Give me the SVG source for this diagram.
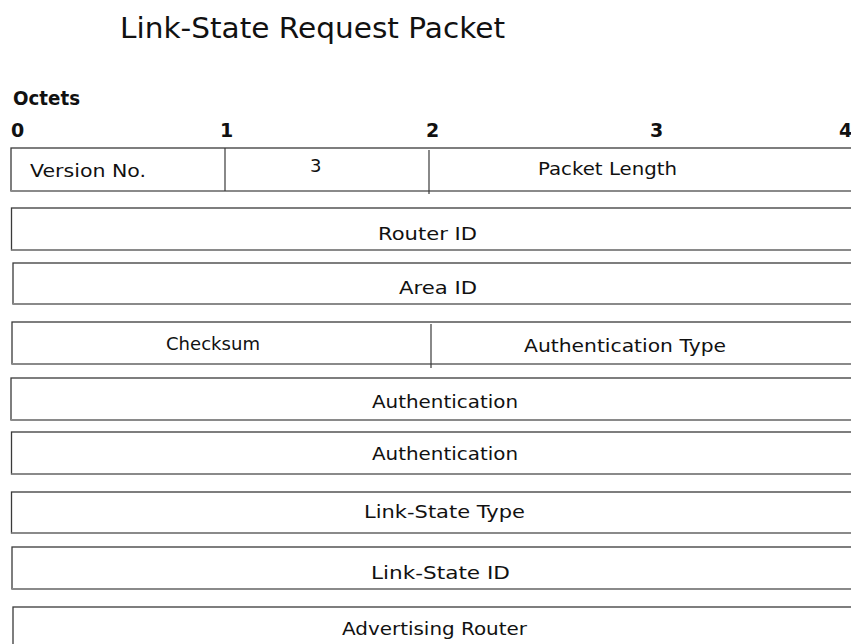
<svg xmlns="http://www.w3.org/2000/svg" width="851" height="644" viewBox="0 0 851 644">
<style>
.box{fill:#fff;stroke:#3a3a3a;stroke-width:1.3}
.bot{stroke:#8a8a8a;stroke-width:2}
.div{stroke:#3a3a3a;stroke-width:1.2}
.lbl{font-family:"DejaVu Sans","Liberation Sans",sans-serif;font-size:18px;fill:#111}
.hdr{font-family:"DejaVu Sans","Liberation Sans",sans-serif;font-size:19px;font-weight:bold;fill:#111}
.ttl{font-family:"DejaVu Sans","Liberation Sans",sans-serif;font-size:29px;fill:#111}
</style>
<rect width="851" height="644" fill="#fff"/>
<text class="ttl" x="120" y="38" textLength="385" lengthAdjust="spacingAndGlyphs">Link-State Request Packet</text>
<text class="hdr" x="13" y="105" textLength="67" lengthAdjust="spacingAndGlyphs">Octets</text>
<g id="octet-scale">
<text class="hdr" x="11" y="137">0</text>
<text class="hdr" x="220" y="137">1</text>
<text class="hdr" x="426" y="137">2</text>
<text class="hdr" x="650" y="137">3</text>
<text class="hdr" x="839" y="137">4</text>
</g>
<g id="row1">
<rect class="box" x="11" y="148" width="860" height="43"/>
<line class="bot" x1="11" y1="191" x2="851" y2="191"/>
<line class="div" x1="225" y1="148" x2="225" y2="191"/>
<line class="div" x1="429" y1="150" x2="429" y2="194"/>
<text class="lbl" x="30" y="177" textLength="116" lengthAdjust="spacingAndGlyphs">Version No.</text>
<text class="lbl" x="310" y="172">3</text>
<text class="lbl" x="538" y="175" textLength="139" lengthAdjust="spacingAndGlyphs">Packet Length</text>
</g>
<g id="router-id">
<rect class="box" x="11.5" y="208" width="860" height="42"/>
<line class="bot" x1="11.5" y1="250" x2="851" y2="250"/>
<text class="lbl" x="378" y="240" textLength="99" lengthAdjust="spacingAndGlyphs">Router ID</text>
</g>
<g id="area-id">
<rect class="box" x="13" y="263" width="860" height="41"/>
<line class="bot" x1="13" y1="304" x2="851" y2="304"/>
<text class="lbl" x="399" y="294" textLength="78" lengthAdjust="spacingAndGlyphs">Area ID</text>
</g>
<g id="checksum-row">
<rect class="box" x="12" y="322" width="860" height="42"/>
<line class="bot" x1="12" y1="364" x2="851" y2="364"/>
<line class="div" x1="431" y1="324" x2="431" y2="368"/>
<text class="lbl" x="166" y="350" textLength="94" lengthAdjust="spacingAndGlyphs">Checksum</text>
<text class="lbl" x="524" y="352" textLength="202" lengthAdjust="spacingAndGlyphs">Authentication Type</text>
</g>
<g id="authentication-1">
<rect class="box" x="11" y="378" width="860" height="42"/>
<line class="bot" x1="11" y1="420" x2="851" y2="420"/>
<text class="lbl" x="372" y="408" textLength="146" lengthAdjust="spacingAndGlyphs">Authentication</text>
</g>
<g id="authentication-2">
<rect class="box" x="11.5" y="432" width="860" height="42"/>
<line class="bot" x1="11.5" y1="474" x2="851" y2="474"/>
<text class="lbl" x="372" y="460" textLength="146" lengthAdjust="spacingAndGlyphs">Authentication</text>
</g>
<g id="link-state-type">
<rect class="box" x="11.5" y="492" width="860" height="41"/>
<line class="bot" x1="11.5" y1="533" x2="851" y2="533"/>
<text class="lbl" x="364" y="518" textLength="161" lengthAdjust="spacingAndGlyphs">Link-State Type</text>
</g>
<g id="link-state-id">
<rect class="box" x="12" y="547" width="860" height="42"/>
<line class="bot" x1="12" y1="589" x2="851" y2="589"/>
<text class="lbl" x="371" y="579" textLength="139" lengthAdjust="spacingAndGlyphs">Link-State ID</text>
</g>
<g id="advertising-router">
<rect class="box" x="13" y="607" width="860" height="50"/>
<text class="lbl" x="342" y="635" textLength="185" lengthAdjust="spacingAndGlyphs">Advertising Router</text>
</g>
<g id="connectors"></g>
</svg>
